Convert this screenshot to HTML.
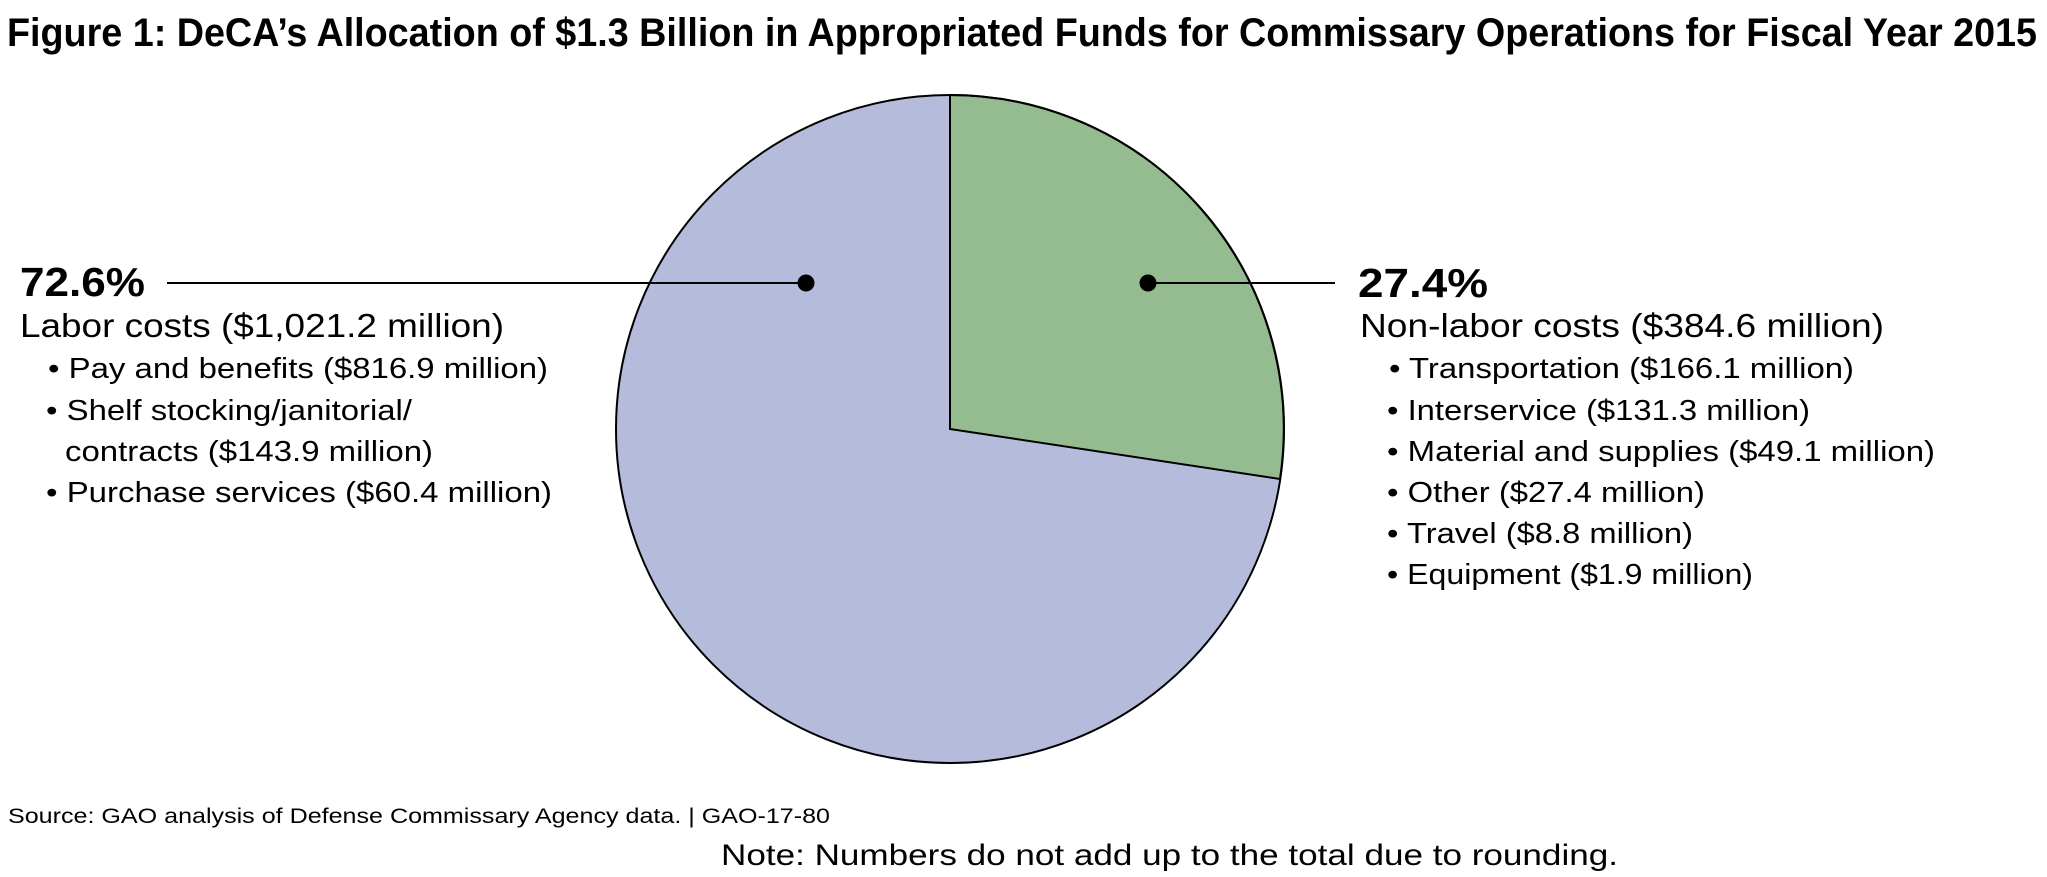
<!DOCTYPE html>
<html><head><meta charset="utf-8"><style>
html,body{margin:0;padding:0;background:#fff;}
svg{display:block;}
text{font-family:"Liberation Sans",Arial,sans-serif;fill:#000;}
</style></head><body>
<svg width="2047" height="877" viewBox="0 0 2047 877" xmlns="http://www.w3.org/2000/svg">
<text x="7" y="46" font-size="40" font-weight="bold" textLength="2030" lengthAdjust="spacingAndGlyphs">Figure 1: DeCA’s Allocation of $1.3 Billion in Appropriated Funds for Commissary Operations for Fiscal Year 2015</text>

<circle cx="950" cy="429" r="334" fill="#b5bcdb"/>
<path d="M950,429 L950,95 A334,334 0 0 1 1280,479 Z" fill="#95bb91" stroke="#000" stroke-width="2"/>
<circle cx="950" cy="429" r="334" fill="none" stroke="#000" stroke-width="2"/>

<line x1="167" y1="283" x2="806" y2="283" stroke="#000" stroke-width="2"/>
<circle cx="806" cy="283" r="8.5" fill="#000"/>
<line x1="1148" y1="283" x2="1335" y2="283" stroke="#000" stroke-width="2"/>
<circle cx="1148" cy="283" r="8.5" fill="#000"/>

<text x="20" y="296" font-size="41" font-weight="bold" textLength="125" lengthAdjust="spacingAndGlyphs">72.6%</text>
<text x="20" y="337" font-size="33" textLength="484" lengthAdjust="spacingAndGlyphs">Labor costs ($1,021.2 million)</text>
<text x="48" y="378" font-size="29" textLength="500" lengthAdjust="spacingAndGlyphs">• Pay and benefits ($816.9 million)</text>
<text x="46" y="420" font-size="29" textLength="366" lengthAdjust="spacingAndGlyphs">• Shelf stocking/janitorial/</text>
<text x="65" y="461" font-size="29" textLength="368" lengthAdjust="spacingAndGlyphs">contracts ($143.9 million)</text>
<text x="46" y="502" font-size="29" textLength="506" lengthAdjust="spacingAndGlyphs">• Purchase services ($60.4 million)</text>

<text x="1358" y="297" font-size="41" font-weight="bold" textLength="130" lengthAdjust="spacingAndGlyphs">27.4%</text>
<text x="1360" y="337" font-size="33" textLength="524" lengthAdjust="spacingAndGlyphs">Non-labor costs ($384.6 million)</text>
<text x="1389" y="378" font-size="29" textLength="465" lengthAdjust="spacingAndGlyphs">• Transportation ($166.1 million)</text>
<text x="1387" y="420" font-size="29" textLength="423" lengthAdjust="spacingAndGlyphs">• Interservice ($131.3 million)</text>
<text x="1387" y="461" font-size="29" textLength="548" lengthAdjust="spacingAndGlyphs">• Material and supplies ($49.1 million)</text>
<text x="1387" y="502" font-size="29" textLength="318" lengthAdjust="spacingAndGlyphs">• Other ($27.4 million)</text>
<text x="1387" y="543" font-size="29" textLength="306" lengthAdjust="spacingAndGlyphs">• Travel ($8.8 million)</text>
<text x="1387" y="584" font-size="29" textLength="366" lengthAdjust="spacingAndGlyphs">• Equipment ($1.9 million)</text>

<text x="8" y="823" font-size="21" textLength="822" lengthAdjust="spacingAndGlyphs">Source: GAO analysis of Defense Commissary Agency data.  |  GAO-17-80</text>
<text x="721" y="865" font-size="30" textLength="897" lengthAdjust="spacingAndGlyphs">Note: Numbers do not add up to the total due to rounding.</text>
</svg>
</body></html>
